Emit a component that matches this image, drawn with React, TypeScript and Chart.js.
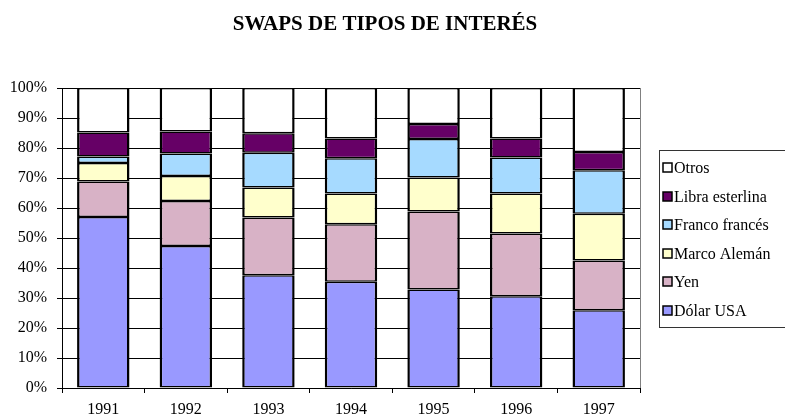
import React, { useEffect, useRef } from "react";
import { Chart, registerables } from "chart.js";

Chart.register(...registerables);

const TITLE = "SWAPS DE TIPOS DE INTERÉS";
const years = ["1991", "1992", "1993", "1994", "1995", "1996", "1997"];

const dolarUSA = [57.0, 47.3, 37.6, 35.4, 32.8, 30.6, 25.9];
const yen = [11.8, 15.0, 19.2, 19.2, 26.0, 20.9, 16.6];
const marcoAleman = [6.2, 8.4, 10.0, 10.2, 11.4, 13.3, 15.6];
const francoFrances = [2.2, 7.5, 11.6, 11.8, 12.8, 12.0, 14.5];
const libraEsterlina = [8.0, 7.3, 6.5, 6.6, 5.0, 6.4, 6.1];
const otros = [14.8, 14.5, 15.1, 16.8, 12.0, 16.8, 21.3];

const seriesNames = ["Dólar USA", "Yen", "Marco Alemán", "Franco francés", "Libra esterlina", "Otros"];
const seriesValues = [dolarUSA, yen, marcoAleman, francoFrances, libraEsterlina, otros];
const seriesColors = ["#9999FF", "#D8B2C6", "#FFFFCC", "#A6DAFF", "#660066", "#FFFFFF"];

const FONT = "'Liberation Serif', 'Times New Roman', serif";

const decorPlugin = {
  id: "decor",
  beforeDatasetsDraw(chart: any) {
    const { ctx, chartArea } = chart;
    ctx.save();
    ctx.strokeStyle = "#808080";
    ctx.lineWidth = 1;
    ctx.beginPath();
    ctx.moveTo(Math.round(chartArea.right) + 0.5, chartArea.top);
    ctx.lineTo(Math.round(chartArea.right) + 0.5, chartArea.bottom);
    ctx.stroke();
    ctx.restore();
  },
  afterDraw(chart: any) {
    const { ctx } = chart;
    ctx.save();
    // title
    ctx.fillStyle = "#000";
    ctx.font = "bold 21px " + FONT;
    ctx.textAlign = "center";
    ctx.textBaseline = "middle";
    ctx.fillText(TITLE, 385, 25);
    // legend
    const lx = 659.5, ly = 150.5, lw = 200, lh = 177;
    ctx.strokeStyle = "#333";
    ctx.lineWidth = 1;
    ctx.strokeRect(lx, ly, lw, lh);
    ctx.font = "16px " + FONT;
    ctx.textAlign = "left";
    const ds = chart.data.datasets;
    const n = ds.length;
    for (let i = 0; i < n; i++) {
      const d = ds[n - 1 - i];
      const cy = 168 + i * 28.5;
      ctx.fillStyle = d.backgroundColor;
      ctx.fillRect(663, Math.round(cy - 5), 9, 9);
      ctx.lineWidth = 1.5;
      ctx.strokeStyle = "#000";
      ctx.strokeRect(663, Math.round(cy - 5), 9, 9);
      ctx.fillStyle = "#000";
      ctx.fillText(d.label, 674, cy + 1);
    }
    ctx.restore();
  },
};

export default function App() {
  const ref = useRef<HTMLCanvasElement | null>(null);
  useEffect(() => {
    if (!ref.current) return;
    const chart = new Chart(ref.current, {
      type: "bar",
      data: {
        labels: years,
        datasets: seriesNames.map((name, i) => ({
          label: name,
          data: seriesValues[i],
          backgroundColor: seriesColors[i],
          borderColor: "#000",
          borderWidth: { top: 1.5, bottom: 1.5, left: 2.5, right: 2.5 },
          borderSkipped: false,
          categoryPercentage: 1,
          barPercentage: 0.635,
        })),
      },
      options: {
        animation: false,
        responsive: false,
        maintainAspectRatio: false,
        layout: { padding: { top: 88, right: 145, left: 0, bottom: 0 } },
        plugins: {
          legend: { display: false },
          title: { display: false },
          tooltip: { enabled: false },
        },
        scales: {
          x: {
            stacked: true,
            offset: true,
            afterFit: (s: any) => { s.height = 32; },
            grid: {
              offset: true,
              drawOnChartArea: false,
              drawTicks: true,
              tickLength: 5,
              color: "#000",
            },
            border: { color: "#000", width: 1 },
            ticks: { color: "#000", font: { family: FONT, size: 16 }, padding: 7 },
          },
          y: {
            stacked: true,
            min: 0,
            max: 100,
            afterFit: (s: any) => { s.width = 62; },
            grid: { color: "#000", lineWidth: 1, tickLength: 5 },
            border: { color: "#000", width: 1 },
            ticks: {
              stepSize: 10,
              color: "#000",
              padding: 10,
              font: { family: FONT, size: 16 },
              callback: (v: any) => v + "%",
            },
          },
        },
      },
      plugins: [decorPlugin],
    });
    return () => chart.destroy();
  }, []);
  return (
    <div style={{ position: "fixed", left: 0, top: 0, width: 785, height: 420, background: "#fff" }}>
      <canvas ref={ref} width={785} height={420} style={{ width: 785, height: 420 }} />
    </div>
  );
}
